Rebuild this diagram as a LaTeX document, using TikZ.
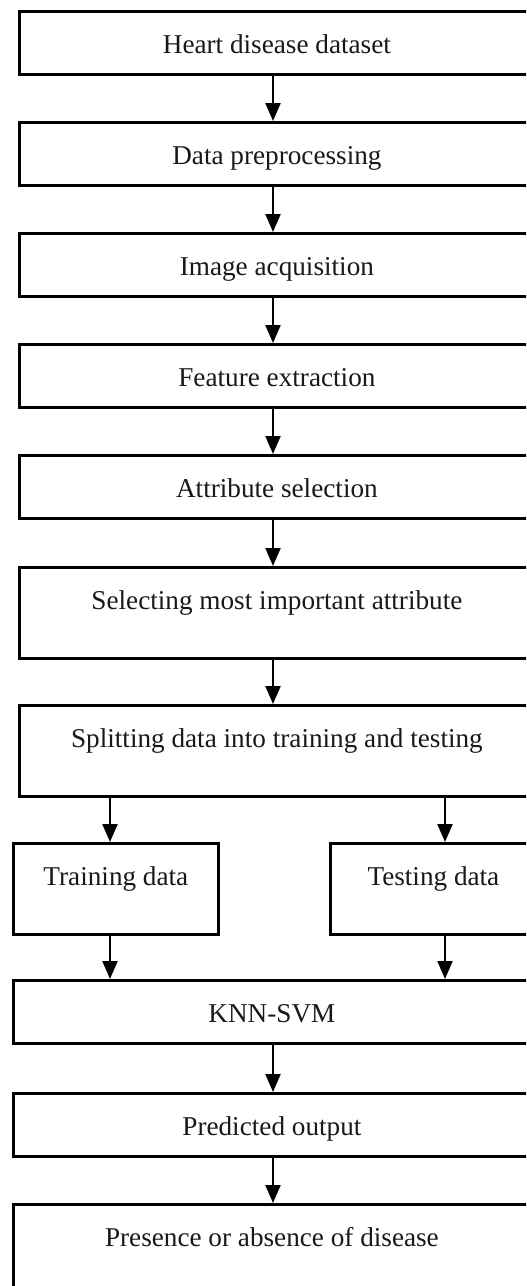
\documentclass[tikz,border=0pt]{standalone}
\usepackage{fontspec}
\setmainfont{Liberation Serif}
\usetikzlibrary{arrows.meta}
\begin{document}
\begin{tikzpicture}[x=0.5pt,y=-0.5pt,
  box/.style={draw=black, line width=1.4pt, rectangle, anchor=north west,
    inner xsep=0pt, inner ysep=0pt, text height=21pt,
    font=\fontsize{13.6}{16}\selectfont, text=black!90},
  short/.style={minimum height=31.5pt, text depth=10.5pt},
  tall/.style={minimum height=45.5pt, text depth=24.5pt},
  wideu/.style={minimum width=257.5pt},
  widel/.style={minimum width=258.5pt},
  half/.style={minimum width=103pt},
  arr/.style={line width=1.1pt, draw=black, -{Triangle[width=7.5pt,length=9pt]}}]
\useasboundingbox (0,0) rectangle (526,1286);
\clip (0,0) rectangle (526,1286);
\fill[white] (0,0) rectangle (526,1286);

\node[box,short,wideu] (b1) at (18,10) {Heart disease dataset};
\node[box,short,wideu] (b2) at (18,121) {Data preprocessing};
\node[box,short,wideu] (b3) at (18,232) {Image acquisition};
\node[box,short,wideu] (b4) at (18,343) {Feature extraction};
\node[box,short,wideu] (b5) at (18,454) {Attribute selection};
\node[box,tall,wideu] (b6) at (18,566) {Selecting most important attribute};
\node[box,tall,wideu] (b7) at (18,704) {Splitting data into training and testing};
\node[box,tall,minimum width=102.5pt] (train) at (12,842) {Training data};
\node[box,tall,half] (test) at (329,842) {Testing data};
\node[box,short,widel] (knn) at (12,979) {KNN-SVM};
\node[box,short,widel] (pred) at (12,1092) {Predicted output};
\node[box,tall,widel] (pres) at (12,1203) {Presence or absence of disease};

\coordinate (mx) at (273,0);
\coordinate (lx) at (110,0);
\coordinate (rx) at (445,0);

\draw[arr] (b1.south -| mx) -- (b2.north -| mx);
\draw[arr] (b2.south -| mx) -- (b3.north -| mx);
\draw[arr] (b3.south -| mx) -- (b4.north -| mx);
\draw[arr] (b4.south -| mx) -- (b5.north -| mx);
\draw[arr] (b5.south -| mx) -- (b6.north -| mx);
\draw[arr] (b6.south -| mx) -- (b7.north -| mx);
\draw[arr] (b7.south -| lx) -- (train.north -| lx);
\draw[arr] (b7.south -| rx) -- (test.north -| rx);
\draw[arr] (train.south -| lx) -- (knn.north -| lx);
\draw[arr] (test.south -| rx) -- (knn.north -| rx);
\draw[arr] (knn.south -| mx) -- (pred.north -| mx);
\draw[arr] (pred.south -| mx) -- (pres.north -| mx);
\end{tikzpicture}
\end{document}
